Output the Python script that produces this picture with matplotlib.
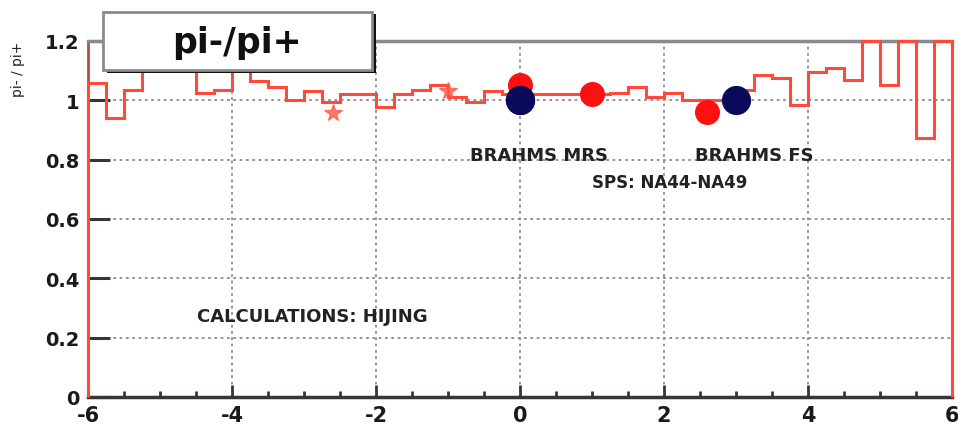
import numpy as np
import matplotlib.pyplot as plt
from matplotlib.patches import Rectangle

plt.rcParams["axes.unicode_minus"] = False

# HIJING pi-/pi+ histogram, bins of 0.25 from -6 to 6
edges = np.arange(-6.0, 6.001, 0.25)
hijing = [1.06, 0.94, 1.035, 1.13, 1.15, 1.12, 1.025, 1.035,
          1.13, 1.065, 1.045, 1.0, 1.03, 0.995, 1.02, 1.02,
          0.978, 1.02, 1.035, 1.05, 1.01, 0.995, 1.03, 1.02,
          1.02, 1.02, 1.02, 1.02, 1.02, 1.025, 1.045, 1.01,
          1.025, 1.0, 1.0, 1.0, 1.035, 1.085, 1.075, 0.985,
          1.095, 1.11, 1.07, 1.3, 1.052, 1.3, 0.874, 1.3]

# data points
mrs_y = [0.0, 1.0, 2.6]
mrs_r = [1.05, 1.02, 0.96]
fs_y = [0.0, 3.0]
fs_r = [1.0, 1.0]
sps_y = [-2.6, -1.0]
sps_r = [0.958, 1.03]

yticks = [0, 0.2, 0.4, 0.6, 0.8, 1.0, 1.2]
ylabels = ["0", "0.2", "0.4", "0.6", "0.8", "1", "1.2"]
xticks = [-6, -4, -2, 0, 2, 4, 6]

fig = plt.figure(figsize=(9.58, 4.39), dpi=100)
ax = fig.add_axes([0.0919, 0.0934, 0.9018, 0.811])

ax.set_xlim(-6, 6)
ax.set_ylim(0, 1.2)

ax.grid(True, color="#8c8794", linestyle=(0, (1.5, 2.0)), linewidth=1.3)
ax.set_axisbelow(True)

ax.stairs(np.minimum(hijing, 1.2), edges, baseline=0, color="#ff4a3a",
          linewidth=2.2, zorder=3, clip_on=False)

ax.plot(sps_y, sps_r, linestyle="none", marker="*", markersize=13,
        color="#ff5a45", alpha=0.8, zorder=4)
ax.plot(fs_y, fs_r, linestyle="none", marker="o", markersize=20,
        color="#0a0a5a", zorder=5)
ax.plot(mrs_y, mrs_r, linestyle="none", marker="o", markersize=17,
        color="#ff1010", zorder=4)
# blue at 0 sits over the red one
ax.plot(fs_y[:1], fs_r[:1], linestyle="none", marker="o", markersize=20,
        color="#0a0a5a", zorder=6)

ax.set_yticks(yticks)
ax.set_yticklabels(ylabels)
ax.set_xticks(xticks)
ax.set_xticks(np.arange(-6, 6.01, 0.5), minor=True)
ax.tick_params(axis="y", direction="in", length=16, width=2.2,
               color="#3a3438", labelsize=14, pad=6)
ax.tick_params(axis="x", which="major", direction="in", length=9, width=2,
               color="#3a3438", labelsize=15, pad=6)
ax.tick_params(axis="x", which="minor", direction="in", length=4, width=2,
               color="#3a3438")
for lab in ax.get_xticklabels() + ax.get_yticklabels():
    lab.set_fontweight("bold")
    lab.set_color("#1a1a1a")

ax.spines["bottom"].set_color("#3a3438")
ax.spines["bottom"].set_linewidth(2.5)
ax.spines["top"].set_color("#8a8890")
ax.spines["top"].set_linewidth(2.5)
ax.spines["left"].set_color("#b05040")
ax.spines["left"].set_linewidth(2)
ax.spines["right"].set_color("#ff4a3a")
ax.spines["right"].set_linewidth(2)

txt = dict(fontsize=13, fontweight="bold", color="#222222", va="center",
           ha="left", zorder=7)
ax.text(-0.69, 0.817, "BRAHMS MRS", **txt)
ax.text(2.43, 0.817, "BRAHMS FS", **txt)
ax.text(1.0, 0.723, "SPS: NA44-NA49", fontsize=12, fontweight="bold",
        color="#222222", va="center", ha="left", zorder=7)
ax.text(-4.49, 0.272, "CALCULATIONS: HIJING", **txt)

# title box with shadow
fig.patches.append(Rectangle((0.1115, 0.831), 0.2815, 0.134,
                             transform=fig.transFigure, facecolor="#111111",
                             edgecolor="none", zorder=5))
fig.patches.append(Rectangle((0.1075, 0.838), 0.281, 0.132,
                             transform=fig.transFigure, facecolor="white",
                             edgecolor="#8a8890", linewidth=2, zorder=6))
fig.text(0.247, 0.902, "pi-/pi+", fontsize=25, fontweight="bold",
         ha="center", va="center", color="#111111", zorder=7)

fig.text(0.019, 0.905, "pi- / pi+", fontsize=10, rotation=90,
         ha="center", va="top", color="#222222")

fig.savefig("out.png", dpi=100)
